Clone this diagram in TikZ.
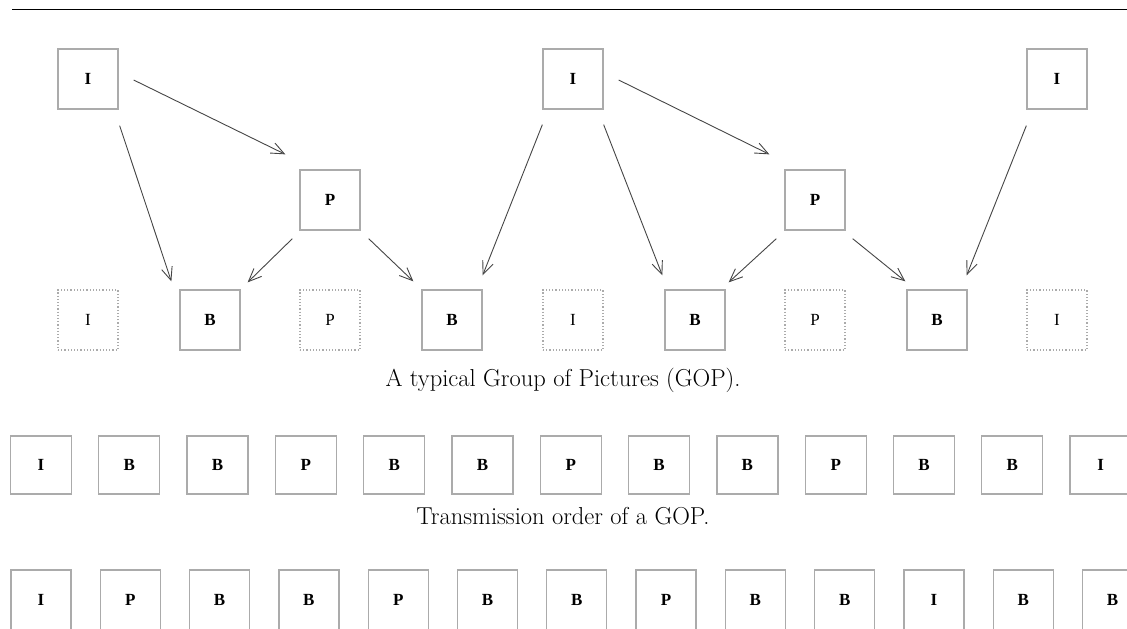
\documentclass[tikz,border=0pt]{standalone}
\usepackage{fontspec}
\newfontfamily\framefont{Liberation Serif}
\usetikzlibrary{arrows.meta}
\definecolor{boxgray}{HTML}{ABABAB}
\definecolor{arrowgray}{HTML}{454545}
\tikzset{
  frm/.style={draw=boxgray, line width=1.3pt, minimum width=60pt, minimum height=60pt,
    inner sep=0pt, font=\framefont\fontsize{17}{17}\selectfont\bfseries},
  ghost/.style={draw=boxgray, line width=1.2pt, dotted, minimum width=60pt, minimum height=60pt,
    inner sep=0pt, font=\framefont\fontsize{17}{17}\selectfont},
  smallfrm/.style={frm, minimum width=61pt, minimum height=58pt},
  refarrow/.style={draw=arrowgray, line width=0.9pt, -{Straight Barb[length=13pt,width=11pt,line width=0.9pt]}},
  caption/.style={font=\fontsize{24.5}{28}\selectfont, inner sep=0pt}
}
\begin{document}
\begin{tikzpicture}[x=1pt,y=1pt]
\useasboundingbox (0,0) rectangle (1127,-629);
\clip (0,0) rectangle (1127,-629);
% rule at the top
\draw[black, line width=1pt] (12,-9) -- (1127,-9);

% reference frames
\node[frm] (I1) at (88,-79) {I};
\node[frm] (P1) at (330,-200) {P};
\node[frm] (I2) at (573,-79) {I};
\node[frm] (P2) at (815,-200) {P};
\node[frm] (I3) at (1057,-79) {I};

% display row
\node[ghost] (dI1) at (88,-320) {I};
\node[frm]   (B1)  at (210,-320) {B};
\node[ghost] (dP1) at (330,-320) {P};
\node[frm]   (B2)  at (452,-320) {B};
\node[ghost] (dI2) at (573,-320) {I};
\node[frm]   (B3)  at (695,-320) {B};
\node[ghost] (dP2) at (815,-320) {P};
\node[frm]   (B4)  at (937,-320) {B};
\node[ghost] (dI3) at (1057,-320) {I};

% prediction arrows
\draw[refarrow] ([shift={(15,-1)}]I1.east) -- ([shift={(-14,15)}]P1.north west);
\draw[refarrow] ([shift={(1,-16)}]I1.south east) -- ([shift={(-8,8)}]B1.north west);
\draw[refarrow] ([shift={(-7,-8)}]P1.south west) -- ([shift={(7,7)}]B1.north east);
\draw[refarrow] ([shift={(8,-8)}]P1.south east) -- ([shift={(-8,8)}]B2.north west);
\draw[refarrow] ([shift={(0,-15)}]I2.south west) -- ([shift={(0,14)}]B2.north east);
\draw[refarrow] ([shift={(0,-15)}]I2.south east) -- ([shift={(-2,14)}]B3.north west);
\draw[refarrow] ([shift={(15,-1)}]I2.east) -- ([shift={(-15,15)}]P2.north west);
\draw[refarrow] ([shift={(-8,-8)}]P2.south west) -- ([shift={(3,7)}]B3.north east);
\draw[refarrow] ([shift={(7,-8)}]P2.south east) -- ([shift={(-1,8)}]B4.north west);
\draw[refarrow] ([shift={(0,-16)}]I3.south west) -- ([shift={(-1,14)}]B4.north east);

\node[caption] (cap1) at (563,-380) {A typical Group of Pictures (GOP).};

% display order
\foreach \lab [count=\k from 0] in {I,B,B,P,B,B,P,B,B,P,B,B,I}
  \node[smallfrm] (g\k) at (41+88.3*\k,-465) {\lab};

\node[caption] (cap2) at (563,-516) {Transmission order of a GOP.};

% transmission order
\foreach \lab [count=\k from 0] in {I,P,B,B,P,B,B,P,B,B,I,B,B}
  \node[frm] (t\k) at (41+89.3*\k,-600) {\lab};
\end{tikzpicture}
\end{document}
